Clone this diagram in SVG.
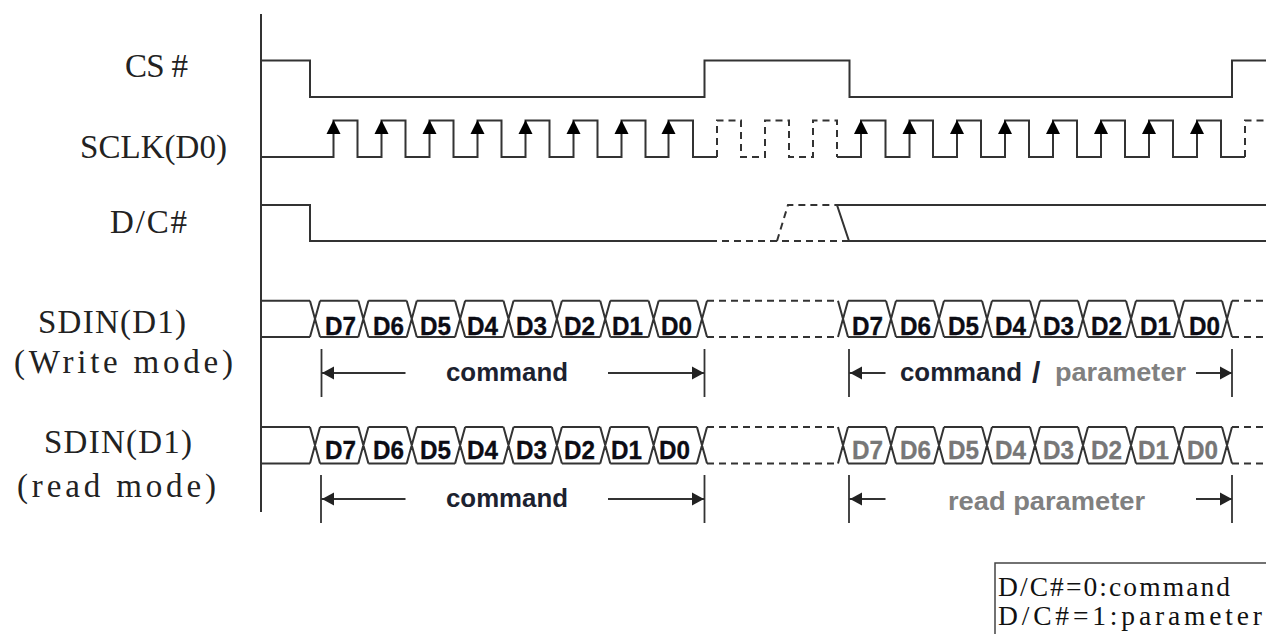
<svg xmlns="http://www.w3.org/2000/svg" width="1266" height="634" viewBox="0 0 1266 634">
<style>
.w{fill:none;stroke:#333;stroke-width:2}
.d{fill:none;stroke:#333;stroke-width:2;stroke-dasharray:7 5}
.t{fill:none;stroke:#333;stroke-width:1.8}
.lab{font-family:"Liberation Serif",serif;font-size:33px;fill:#222}
.box{font-family:"Liberation Serif",serif;font-size:27.500px;fill:#111}
.b{font-family:"Liberation Sans",Arial,sans-serif;font-weight:700;font-size:25px;fill:#0c0c14;stroke:#0c0c14;stroke-width:.3}
.g{fill:#777;stroke:#777}
.c{font-family:"Liberation Sans",Arial,sans-serif;font-weight:700;font-size:25px;fill:#1c2230}
.p{fill:#808080}
</style>
<defs>
<polygon id="up" points="0,0 -7,14 7,14" fill="#000"/>
<polygon id="al" points="0,0 12,-6.500 12,6.500" fill="#222"/>
<polygon id="ar" points="0,0 -12,-6.500 -12,6.500" fill="#222"/>
<path id="bus" class="w" d="M-5 0L5 36.4M-5 36.4L5 0M5 0H43M5 36.4H43M43 0L53 36.4M43 36.4L53 0M53 0H91M53 36.4H91M91 0L101 36.4M91 36.4L101 0M101 0H139M101 36.4H139M139 0L149 36.4M139 36.4L149 0M149 0H187M149 36.4H187M187 0L197 36.4M187 36.4L197 0M197 0H235M197 36.4H235M235 0L245 36.4M235 36.4L245 0M245 0H283M245 36.4H283M283 0L293 36.4M283 36.4L293 0M293 0H331M293 36.4H331M331 0L341 36.4M331 36.4L341 0M341 0H379M341 36.4H379M379 0L389 36.4M379 36.4L389 0"/>
</defs>
<rect width="1266" height="634" fill="#fff"/>
<g id="labels">
<g id="label-cs"><text class="lab" x="125" y="77" textLength="63">CS #</text></g>
<g id="label-sclk"><text class="lab" x="80" y="158" textLength="147">SCLK(D0)</text></g>
<g id="label-dc"><text class="lab" x="110" y="233" textLength="77">D/C#</text></g>
<g id="label-sdin-write"><text class="lab" x="38" y="333" textLength="148">SDIN(D1)</text><text class="lab" x="14" y="373" textLength="219">(Write mode)</text></g>
<g id="label-sdin-read"><text class="lab" x="44" y="453" textLength="148">SDIN(D1)</text><text class="lab" x="17" y="497" textLength="199">(read mode)</text></g>
</g>
<g id="connectors">
<path id="axis" class="w" d="M261 14V512"/>
<path id="cs" class="w" d="M261 60.5H310V97H704.500V60.500H849.500V97H1232V60.500H1266"/>
<g id="sclk">
<path class="w" d="M261 157H333.500V120.500H357.500V157H381.500V120.500H405.500V157H429.500V120.500H453.500V157H477.500V120.500H501.500V157H525.500V120.500H549.500V157H573.500V120.500H597.500V157H621.500V120.500H645.500V157H668.500V120.500H693V157H717"/>
<path class="d" stroke-dasharray="6 4" d="M717 157V120.500H741V157H765V120.500H789V157H813V120.500H837V157"/>
<path class="w" d="M837 157H861V120.500H885.500V157H909.500V120.500H933V157H957V120.500H981V157H1005V120.500H1029V157H1053V120.500H1077V157H1101V120.500H1125V157H1149V120.500H1173V157H1197V120.500H1221V157H1245"/>
<path class="d" stroke-dasharray="6 4" d="M1245 157V120.500H1266"/>
<use href="#up" x="333.500" y="120"/><use href="#up" x="381.500" y="120"/><use href="#up" x="429.500" y="120"/><use href="#up" x="477.500" y="120"/><use href="#up" x="525.500" y="120"/><use href="#up" x="573.500" y="120"/><use href="#up" x="621.500" y="120"/><use href="#up" x="668.500" y="120"/>
<use href="#up" x="861" y="120"/><use href="#up" x="909.500" y="120"/><use href="#up" x="957" y="120"/><use href="#up" x="1005" y="120"/><use href="#up" x="1053" y="120"/><use href="#up" x="1101" y="120"/><use href="#up" x="1149" y="120"/><use href="#up" x="1197" y="120"/>
</g>
<g id="dc">
<path class="w" d="M261 205H310V241H710"/>
<path class="d" d="M710 241H849M777 241L788 205H837"/>
<path class="w" d="M1266 205H837L849 241H1266"/>
</g>
<g id="sdin-write">
<path class="w" d="M261 300.700H310M261 337.100H310"/>
<use href="#bus" transform="translate(315 300.700) scale(1.0078 1)"/>
<path class="d" d="M707 300.700H837M707 337.100H837"/>
<use href="#bus" transform="translate(843 300.700)"/>
<path class="d" d="M1232 300.700H1266M1232 337.100H1266"/>
</g>
<g id="sdin-read">
<path class="w" d="M261 427H310M261 463.400H310"/>
<use href="#bus" transform="translate(315 427) scale(1.0078 1)"/>
<path class="d" d="M707 427H837M707 463.400H837"/>
<use href="#bus" transform="translate(843 427)"/>
<path class="d" d="M1232 427H1266M1232 463.400H1266"/>
</g>
<g id="dims">
<path class="t" d="M321.500 349V397M704.500 349V397M849 349V397M1232 349V397M321 475V523M704.500 475V523M849 475V523M1232 475V523"/>
<path class="t" d="M321.500 373H405.500M608 373H704M849 373H885.500M1196 373H1232M321 499H405.500M608 499H704M849 499H885.500M1196 499H1232"/>
<use href="#al" x="322" y="373"/><use href="#ar" x="704" y="373"/><use href="#al" x="850" y="373"/><use href="#ar" x="1232" y="373"/>
<use href="#al" x="322" y="499"/><use href="#ar" x="704" y="499"/><use href="#al" x="850" y="499"/><use href="#ar" x="1232" y="499"/>
</g>
</g>
<g id="bits-write">
<text class="b" x="325" y="335" textLength="31" lengthAdjust="spacingAndGlyphs">D7</text><text class="b" x="373" y="335" textLength="31" lengthAdjust="spacingAndGlyphs">D6</text><text class="b" x="420" y="335" textLength="31" lengthAdjust="spacingAndGlyphs">D5</text><text class="b" x="467" y="335" textLength="31" lengthAdjust="spacingAndGlyphs">D4</text><text class="b" x="516" y="335" textLength="31" lengthAdjust="spacingAndGlyphs">D3</text><text class="b" x="564" y="335" textLength="31" lengthAdjust="spacingAndGlyphs">D2</text><text class="b" x="612" y="335" textLength="31" lengthAdjust="spacingAndGlyphs">D1</text><text class="b" x="661" y="335" textLength="31" lengthAdjust="spacingAndGlyphs">D0</text>
<text class="b" x="852" y="335" textLength="31" lengthAdjust="spacingAndGlyphs">D7</text><text class="b" x="900" y="335" textLength="31" lengthAdjust="spacingAndGlyphs">D6</text><text class="b" x="948" y="335" textLength="31" lengthAdjust="spacingAndGlyphs">D5</text><text class="b" x="995" y="335" textLength="31" lengthAdjust="spacingAndGlyphs">D4</text><text class="b" x="1043" y="335" textLength="31" lengthAdjust="spacingAndGlyphs">D3</text><text class="b" x="1091" y="335" textLength="31" lengthAdjust="spacingAndGlyphs">D2</text><text class="b" x="1140" y="335" textLength="31" lengthAdjust="spacingAndGlyphs">D1</text><text class="b" x="1189" y="335" textLength="31" lengthAdjust="spacingAndGlyphs">D0</text>
</g>
<g id="bits-read">
<text class="b" x="325" y="459" textLength="31" lengthAdjust="spacingAndGlyphs">D7</text><text class="b" x="373" y="459" textLength="31" lengthAdjust="spacingAndGlyphs">D6</text><text class="b" x="420" y="459" textLength="31" lengthAdjust="spacingAndGlyphs">D5</text><text class="b" x="467" y="459" textLength="31" lengthAdjust="spacingAndGlyphs">D4</text><text class="b" x="516" y="459" textLength="31" lengthAdjust="spacingAndGlyphs">D3</text><text class="b" x="564" y="459" textLength="31" lengthAdjust="spacingAndGlyphs">D2</text><text class="b" x="611" y="459" textLength="31" lengthAdjust="spacingAndGlyphs">D1</text><text class="b" x="659" y="459" textLength="31" lengthAdjust="spacingAndGlyphs">D0</text>
<text class="b g" x="852" y="459" textLength="31" lengthAdjust="spacingAndGlyphs">D7</text><text class="b g" x="900" y="459" textLength="31" lengthAdjust="spacingAndGlyphs">D6</text><text class="b g" x="948" y="459" textLength="31" lengthAdjust="spacingAndGlyphs">D5</text><text class="b g" x="995" y="459" textLength="31" lengthAdjust="spacingAndGlyphs">D4</text><text class="b g" x="1043" y="459" textLength="31" lengthAdjust="spacingAndGlyphs">D3</text><text class="b g" x="1091" y="459" textLength="31" lengthAdjust="spacingAndGlyphs">D2</text><text class="b g" x="1138" y="459" textLength="31" lengthAdjust="spacingAndGlyphs">D1</text><text class="b g" x="1187" y="459" textLength="31" lengthAdjust="spacingAndGlyphs">D0</text>
</g>
<g id="dim-labels">
<text class="c" x="446" y="381" textLength="122" lengthAdjust="spacingAndGlyphs">command</text>
<text class="c" x="900" y="381" textLength="122" lengthAdjust="spacingAndGlyphs">command</text>
<text class="c" x="1032" y="383" style="font-size:30px">/</text>
<text class="c p" x="1055" y="381" textLength="131" lengthAdjust="spacingAndGlyphs">parameter</text>
<text class="c" x="446" y="507" textLength="122" lengthAdjust="spacingAndGlyphs">command</text>
<text class="c p" x="948" y="510" textLength="197" lengthAdjust="spacingAndGlyphs">read parameter</text>
</g>
<g id="legend">
<path d="M1266 563H995V634" fill="none" stroke="#444" stroke-width="1.500"/>
<text class="box" x="998" y="596" textLength="232">D/C#=0:command</text>
<text class="box" x="998" y="625" textLength="264">D/C#=1:parameter</text>
</g>
</svg>
